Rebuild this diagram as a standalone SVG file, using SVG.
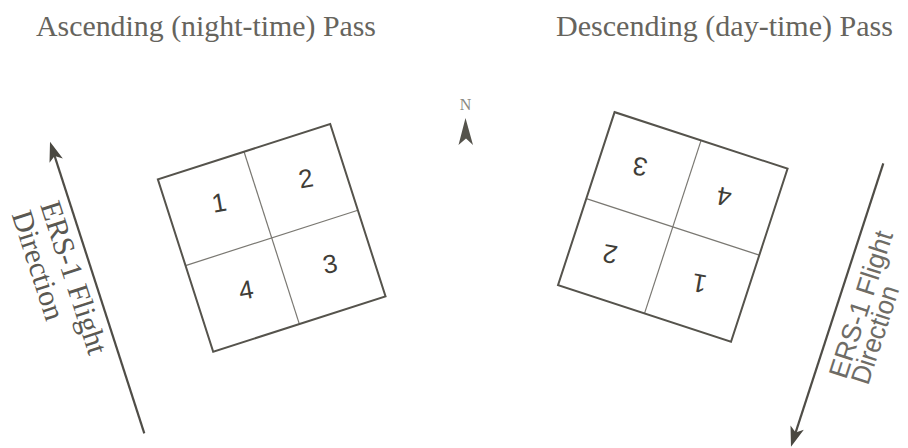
<svg xmlns="http://www.w3.org/2000/svg" width="908" height="448" viewBox="0 0 908 448">
<style>
.title{font-family:"Liberation Serif","Times New Roman",serif;font-size:30px;fill:#66645d}
.lblL{font-family:"Liberation Serif","Times New Roman",serif;font-size:30px;fill:#5a5852}
.lblR{font-family:"Liberation Sans",Arial,sans-serif;font-size:27px;fill:#6e6c66}
.num{font-family:"Liberation Sans",Arial,sans-serif;font-size:26px;fill:#3f3d37;text-anchor:middle}
.outer{fill:none;stroke:#55534c;stroke-width:2}
.inner{fill:none;stroke:#7a7872;stroke-width:1.2}
.flight{fill:none;stroke:#4f4d47;stroke-width:2.2}
</style>
<defs>
<marker id="ah" markerUnits="userSpaceOnUse" viewBox="-10 -9 24 18" refX="0" refY="0" markerWidth="24" markerHeight="18" orient="auto">
<path d="M12,0 L-8,-7 L-3,0 L-8,7 Z" fill="#4a4841"/>
</marker>
</defs>

<g id="title-ascending"><text class="title" x="36" y="36" textLength="340" lengthAdjust="spacingAndGlyphs">Ascending (night-time) Pass</text></g>
<g id="title-descending"><text class="title" x="556" y="36" textLength="337" lengthAdjust="spacingAndGlyphs">Descending (day-time) Pass</text></g>

<g id="north">
<text x="465.5" y="110" style="font-family:'Liberation Serif',serif;font-size:16px;fill:#8a8882;text-anchor:middle">N</text>
<polygon points="465.5,118 473,145 466,138.5 458.5,145" fill="#55534c"/>
</g>

<g id="connectors">
<line class="flight" x1="144.3" y1="433.3" x2="53.7" y2="153.1" marker-end="url(#ah)"/>
<line class="flight" x1="883.3" y1="163.3" x2="794.7" y2="435.3" marker-end="url(#ah)"/>
</g>

<g id="label-left">
<text class="lblL" transform="translate(40,205) rotate(72)">ERS-1 Flight</text>
<text class="lblL" transform="translate(11.5,214.5) rotate(72)">Direction</text>
</g>
<g id="label-right">
<text class="lblR" transform="translate(846,380) rotate(-72)">ERS-1 Flight</text>
<text class="lblR" transform="translate(868,386) rotate(-72)" textLength="102" lengthAdjust="spacingAndGlyphs">Direction</text>
</g>

<g id="scene-ascending">
<g transform="translate(271.7,237.9) rotate(-17.8)">
<line class="inner" x1="0" y1="-90.5" x2="0" y2="90.5"/>
<line class="inner" x1="-90.5" y1="0" x2="90.5" y2="0"/>
<rect class="outer" x="-90.5" y="-90.5" width="181" height="181"/>
</g>
<text class="num" transform="translate(219,202.7) rotate(-10)" dy="9">1</text>
<text class="num" transform="translate(305.7,178.3) rotate(-10)" dy="9">2</text>
<text class="num" transform="translate(330,264) rotate(-10)" dy="9">3</text>
<text class="num" transform="translate(246,290) rotate(-10)" dy="9">4</text>
</g>

<g id="scene-descending">
<g transform="translate(672.8,226.9) rotate(18.1)">
<line class="inner" x1="0" y1="-91" x2="0" y2="91"/>
<line class="inner" x1="-91" y1="0" x2="91" y2="0"/>
<rect class="outer" x="-91" y="-91" width="182" height="182"/>
</g>
<text class="num" transform="translate(699.3,283.3) rotate(190)" dy="9">1</text>
<text class="num" transform="translate(610,254) rotate(190)" dy="9">2</text>
<text class="num" transform="translate(640,166.7) rotate(190)" dy="9">3</text>
<text class="num" transform="translate(724,196.7) rotate(190)" dy="9">4</text>
</g>
</svg>
